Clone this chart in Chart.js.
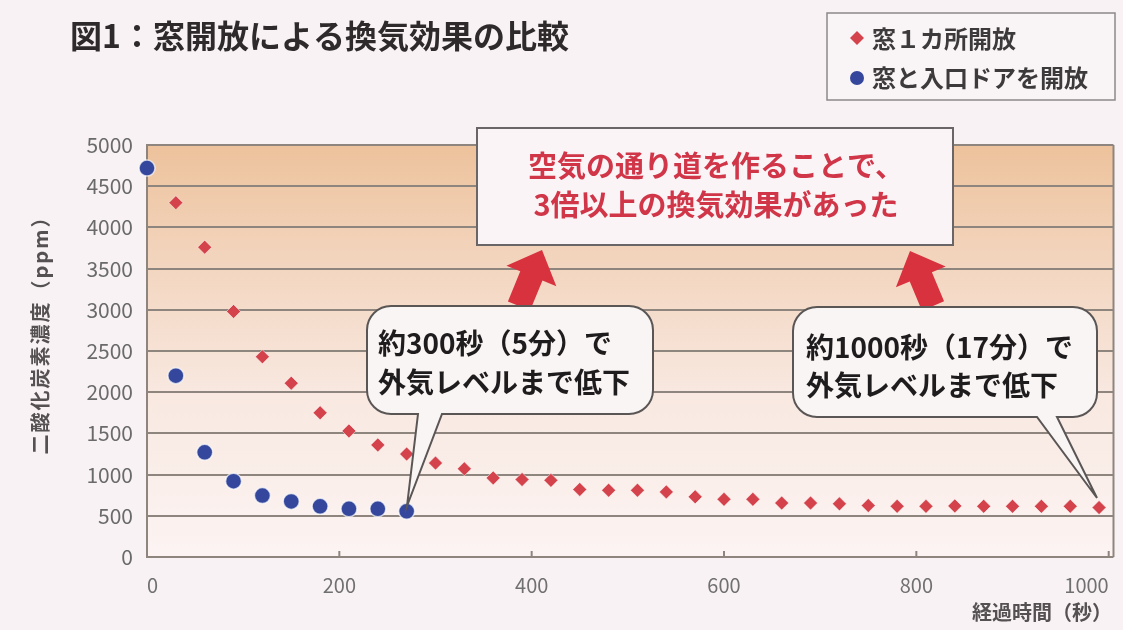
<!DOCTYPE html>
<html>
<head>
<meta charset="utf-8">
<script src="https://cdn.jsdelivr.net/npm/chart.js@4"></script>
<style>
  body { margin: 0; background: #f8f2f4; }
  #chart { display: block; }
</style>
</head>
<body>
<canvas id="chart" width="1123" height="630"></canvas>
<script>
// data (seconds / ppm)
const redTimes = [30, 60, 90, 120, 150, 180, 210, 240, 270, 300, 330, 360, 390, 420, 450, 480, 510,
  540, 570, 600, 630, 660, 690, 720, 750, 780, 810, 840, 870, 900, 930, 960, 990];
const redPpm = [4300, 3760, 2980, 2430, 2110, 1750, 1530, 1360, 1250, 1140, 1070, 960, 940, 930, 820, 810, 810,
  790, 730, 700, 700, 655, 655, 645, 625, 615, 615, 620, 615, 615, 615, 615, 600];
const blueTimes = [0, 30, 60, 90, 120, 150, 180, 210, 240, 270];
const bluePpm = [4720, 2200, 1270, 920, 745, 675, 615, 585, 585, 555];

const xTicks = [0, 200, 400, 600, 800, 1000];
const yTicks = [0, 500, 1000, 1500, 2000, 2500, 3000, 3500, 4000, 4500, 5000];

const seriesNames = ["窓１カ所開放", "窓と入口ドアを開放"];
const titleText = "図1：窓開放による換気効果の比較";
const noteText = ["空気の通り道を作ることで、", "3倍以上の換気効果があった"];
const bubble1Text = ["約300秒（5分）で", "外気レベルまで低下"];
const bubble2Text = ["約1000秒（17分）で", "外気レベルまで低下"];
const xTitle = "経過時間（秒）";
const yTitle = "二酸化炭素濃度（ppm）";

const FONT = '"Noto Sans CJK JP", "Noto Sans", sans-serif';
const RED = "#d4424c";
const BLUE = "#34479c";
const GRID = "#8e857f";

const toPoints = (xs, ys) => xs.map((x, i) => ({ x: x, y: ys[i] }));

function bubble(ctx, x, y, w, h, r, b1, b2, tx, ty) {
  ctx.beginPath();
  ctx.moveTo(x + r, y);
  ctx.arcTo(x + w, y, x + w, y + h, r);
  ctx.arcTo(x + w, y + h, x, y + h, r);
  ctx.lineTo(b2, y + h);
  ctx.lineTo(tx, ty);
  ctx.lineTo(b1, y + h);
  ctx.arcTo(x, y + h, x, y, r);
  ctx.arcTo(x, y, x + w, y, r);
  ctx.closePath();
  ctx.fillStyle = "#faf5f5";
  ctx.fill();
  ctx.lineWidth = 2;
  ctx.strokeStyle = "#5a5656";
  ctx.stroke();
}

function arrow(ctx, tailX, tailY, tipX, tipY) {
  const dx = tipX - tailX, dy = tipY - tailY;
  const len = Math.hypot(dx, dy);
  const ux = dx / len, uy = dy / len;
  const nx = -uy, ny = ux;
  const head = 28, shaft = 12, wing = 27;
  const bx = tipX - ux * head, by = tipY - uy * head;
  ctx.beginPath();
  ctx.moveTo(tailX + nx * shaft, tailY + ny * shaft);
  ctx.lineTo(bx + nx * shaft, by + ny * shaft);
  ctx.lineTo(bx + nx * wing, by + ny * wing);
  ctx.lineTo(tipX, tipY);
  ctx.lineTo(bx - nx * wing, by - ny * wing);
  ctx.lineTo(bx - nx * shaft, by - ny * shaft);
  ctx.lineTo(tailX - nx * shaft, tailY - ny * shaft);
  ctx.closePath();
  ctx.fillStyle = "#d8323f";
  ctx.fill();
}

const backdrop = {
  id: "backdrop",
  beforeDraw(chart) {
    const { ctx, chartArea: a } = chart;
    const g = ctx.createLinearGradient(0, a.top, 0, a.bottom);
    g.addColorStop(0, "#edc29c");
    g.addColorStop(0.3, "#f3d6c0");
    g.addColorStop(0.6, "#f8e8e0");
    g.addColorStop(1, "#fcf4f3");
    ctx.save();
    ctx.fillStyle = g;
    ctx.fillRect(a.left, a.top, a.right - a.left, a.bottom - a.top);
    ctx.restore();
  },
};

const extras = {
  id: "extras",
  afterDraw(chart) {
    const { ctx, chartArea: a } = chart;
    const xs = chart.scales.x;
    ctx.save();

    // right frame + small x ticks
    ctx.strokeStyle = GRID;
    ctx.lineWidth = 2;
    ctx.beginPath();
    ctx.moveTo(a.right, a.top);
    ctx.lineTo(a.right, a.bottom);
    xTicks.slice(1).forEach(v => {
      const px = xs.getPixelForValue(v);
      ctx.moveTo(px, a.bottom);
      ctx.lineTo(px, a.bottom - 6);
    });
    ctx.stroke();

    // title
    ctx.fillStyle = "#2e2a2b";
    ctx.font = "bold 32px " + FONT;
    ctx.textBaseline = "middle";
    ctx.textAlign = "left";
    ctx.fillText(titleText, 70, 36);

    // legend
    ctx.strokeStyle = "#8c8888";
    ctx.lineWidth = 1.5;
    ctx.fillStyle = "#f9f4f6";
    ctx.fillRect(827, 13, 288, 87);
    ctx.strokeRect(827, 13, 288, 87);
    ctx.fillStyle = RED;
    ctx.beginPath();
    ctx.moveTo(857, 31); ctx.lineTo(864, 38); ctx.lineTo(857, 45); ctx.lineTo(850, 38);
    ctx.closePath();
    ctx.fill();
    ctx.fillStyle = BLUE;
    ctx.beginPath();
    ctx.arc(857, 78, 7, 0, Math.PI * 2);
    ctx.fill();
    ctx.fillStyle = "#3d3a3b";
    ctx.font = "bold 24px " + FONT;
    ctx.fillText(seriesNames[0], 872, 39);
    ctx.fillText(seriesNames[1], 872, 78);

    // axis titles
    ctx.fillStyle = "#555052";
    ctx.font = "bold 20px " + FONT;
    ctx.textAlign = "right";
    ctx.fillText(xTitle, 1112, 612);
    ctx.save();
    ctx.translate(40, 330);
    ctx.rotate(-Math.PI / 2);
    ctx.textAlign = "center";
    ctx.letterSpacing = "2px";
    ctx.fillText(yTitle, 0, 0);
    ctx.restore();

    // arrows and note box
    arrow(ctx, 519, 306, 542, 250);
    arrow(ctx, 933, 306, 910, 251);
    ctx.fillStyle = "#faf4f6";
    ctx.fillRect(477, 128, 476, 117);
    ctx.strokeStyle = "#6a6566";
    ctx.lineWidth = 2;
    ctx.strokeRect(477, 128, 476, 117);
    ctx.fillStyle = "#d03548";
    ctx.font = "bold 29px " + FONT;
    ctx.textAlign = "center";
    ctx.fillText(noteText[0], 716, 166);
    ctx.fillText(noteText[1], 716, 205);

    // speech bubbles
    bubble(ctx, 367, 306, 286, 108, 24, 418, 442, 407, 506);
    bubble(ctx, 793, 307, 304, 110, 24, 1037, 1057, 1097, 498);
    ctx.fillStyle = "#1f1c1d";
    ctx.font = "bold 28px " + FONT;
    ctx.textAlign = "left";
    ctx.fillText(bubble1Text[0], 378, 343);
    ctx.fillText(bubble1Text[1], 378, 382);
    ctx.fillText(bubble2Text[0], 806, 347);
    ctx.fillText(bubble2Text[1], 806, 385);

    ctx.restore();
  },
};

new Chart(document.getElementById("chart"), {
  type: "scatter",
  data: {
    datasets: [
      {
        label: seriesNames[0],
        data: toPoints(redTimes, redPpm),
        pointStyle: "rectRot",
        pointRadius: 7,
        backgroundColor: RED,
        borderColor: "rgba(255,255,255,0.5)",
        borderWidth: 1,
        clip: false,
      },
      {
        label: seriesNames[1],
        data: toPoints(blueTimes, bluePpm),
        pointStyle: "circle",
        pointRadius: 8,
        backgroundColor: BLUE,
        borderColor: "rgba(255,255,255,0.7)",
        borderWidth: 1.5,
        clip: false,
      },
    ],
  },
  options: {
    responsive: false,
    animation: false,
    layout: { padding: { top: 145, left: 0, right: 8, bottom: 0 } },
    plugins: { legend: { display: false }, tooltip: { enabled: false } },
    scales: {
      x: {
        type: "linear",
        min: 0,
        max: 1005,
        afterBuildTicks: s => { s.ticks = xTicks.map(v => ({ value: v })); },
        afterFit: s => { s.height = 73; s.paddingLeft = 0; s.paddingRight = 0; },
        grid: { display: false },
        border: { display: false },
        ticks: { align: "inner", padding: 8, color: "#707070", font: { family: FONT, size: 20 }, callback: v => String(v) },
      },
      y: {
        min: 0,
        max: 5000,
        afterBuildTicks: s => { s.ticks = yTicks.map(v => ({ value: v })); },
        afterFit: s => { s.width = 147; s.paddingTop = 0; s.paddingBottom = 0; },
        grid: { color: GRID, lineWidth: 2, drawTicks: false },
        border: { display: true, color: GRID, width: 2 },
        ticks: { padding: 14, color: "#6a6a6a", font: { family: FONT, size: 21 }, callback: v => String(v) },
      },
    },
  },
  plugins: [backdrop, extras],
});
</script>
</body>
</html>
